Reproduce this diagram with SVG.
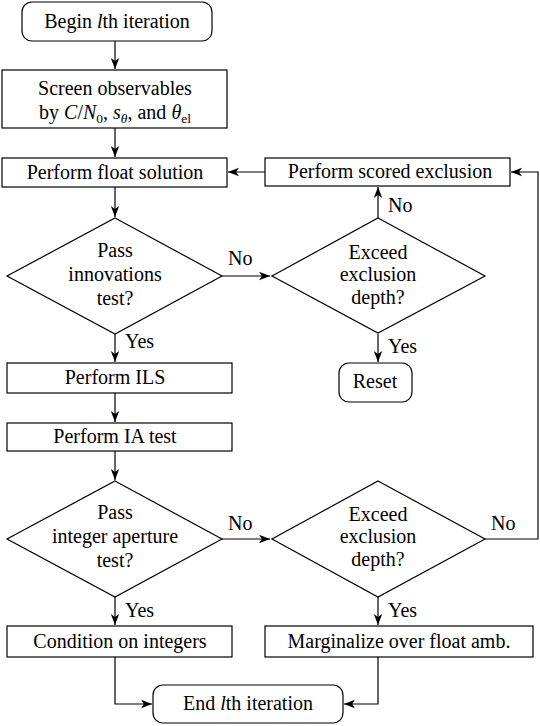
<svg xmlns="http://www.w3.org/2000/svg" width="540" height="726" viewBox="0 0 540 726">
<defs>
<marker id="ar" markerWidth="12" markerHeight="10" refX="11" refY="5" orient="auto" markerUnits="userSpaceOnUse">
<path d="M0,0.8 L11,5 L0,9.2 L3,5 Z" fill="#000"/>
</marker>
<style>
.n{fill:#fff;stroke:#000;stroke-width:1.2}
.t{font-size:20px;fill:#000;text-anchor:middle}
.l{font-size:20px;fill:#000}
.c{fill:none;stroke:#000;stroke-width:1.2;marker-end:url(#ar)}
.i{font-style:italic}
</style>
</defs>
<rect width="540" height="726" fill="#fff"/>
<g font-family="Liberation Serif, Times New Roman, DejaVu Serif, serif">
<g id="connectors">
<path class="c" d="M115,41 V69"/>
<path class="c" d="M115,128 V157"/>
<path class="c" d="M265,172 H228"/>
<path class="c" d="M115,187 V217"/>
<path class="c" d="M222,276 H270"/>
<path class="c" d="M378,218 V187"/>
<path class="c" d="M378,334 V362"/>
<path class="c" d="M115,334 V362"/>
<path class="c" d="M115,393 V422"/>
<path class="c" d="M115,451 V480"/>
<path class="c" d="M222,539 H270"/>
<path class="c" d="M485,539 H538 V172 H511"/>
<path class="c" d="M115,597 V625"/>
<path class="c" d="M378,597 V625"/>
<path class="c" d="M115,657 V704 H152"/>
<path class="c" d="M378,657 V704 H344"/>
<text class="l" x="228" y="265">No</text>
<text class="l" x="125" y="348">Yes</text>
<text class="l" x="388" y="212">No</text>
<text class="l" x="388" y="353">Yes</text>
<text class="l" x="228" y="530">No</text>
<text class="l" x="125" y="617">Yes</text>
<text class="l" x="388" y="617">Yes</text>
<text class="l" x="491" y="530">No</text>
</g>
<g id="begin">
<rect class="n" x="22" y="2" width="190" height="39" rx="10"/>
<text class="t" x="117" y="28">Begin <tspan class="i">l</tspan>th iteration</text>
</g>
<g id="screen">
<rect class="n" x="2" y="70" width="225" height="58"/>
<text class="t" x="115" y="95">Screen observables</text>
<text class="t" x="115" y="119">by <tspan class="i">C</tspan>/<tspan class="i">N</tspan><tspan font-size="13.5" dy="4">0</tspan><tspan dy="-4">,  </tspan><tspan class="i">s</tspan><tspan class="i" font-size="13.5" dy="4">θ</tspan><tspan dy="-4">,  and </tspan><tspan class="i">θ</tspan><tspan font-size="13.5" dy="4">el</tspan></text>
</g>
<g id="float">
<rect class="n" x="2" y="158" width="225" height="29"/>
<text class="t" x="115" y="179">Perform float solution</text>
</g>
<g id="scored">
<rect class="n" x="265" y="158" width="245" height="28"/>
<text class="t" x="390" y="178">Perform scored exclusion</text>
</g>
<g id="innov">
<polygon class="n" points="115,218 222,276 115,334 7,276"/>
<text class="t" x="115" y="257">Pass</text>
<text class="t" x="115" y="281">innovations</text>
<text class="t" x="115" y="305">test?</text>
</g>
<g id="exceed1">
<polygon class="n" points="378,218 485,276 378,333 272,276"/>
<text class="t" x="378" y="259">Exceed</text>
<text class="t" x="378" y="281">exclusion</text>
<text class="t" x="378" y="304">depth?</text>
</g>
<g id="reset">
<rect class="n" x="339" y="363" width="73" height="39" rx="10"/>
<text class="t" x="375" y="388">Reset</text>
</g>
<g id="ils">
<rect class="n" x="7" y="363" width="225" height="30"/>
<text class="t" x="115" y="384">Perform ILS</text>
</g>
<g id="ia">
<rect class="n" x="7" y="423" width="225" height="28"/>
<text class="t" x="115" y="443">Perform IA test</text>
</g>
<g id="aperture">
<polygon class="n" points="115,481 222,539 115,597 7,539"/>
<text class="t" x="115" y="519">Pass</text>
<text class="t" x="115" y="543">integer aperture</text>
<text class="t" x="115" y="567">test?</text>
</g>
<g id="exceed2">
<polygon class="n" points="378,481 485,539 378,597 272,539"/>
<text class="t" x="378" y="521">Exceed</text>
<text class="t" x="378" y="543">exclusion</text>
<text class="t" x="378" y="566">depth?</text>
</g>
<g id="condition">
<rect class="n" x="7" y="626" width="225" height="31"/>
<text class="t" x="120" y="648">Condition on integers</text>
</g>
<g id="marginalize">
<rect class="n" x="265" y="626" width="268" height="31"/>
<text class="t" x="399" y="648">Marginalize over float amb.</text>
</g>
<g id="end">
<rect class="n" x="153" y="685" width="190" height="38" rx="10"/>
<text class="t" x="248" y="710">End <tspan class="i">l</tspan>th iteration</text>
</g>
</g>
</svg>
